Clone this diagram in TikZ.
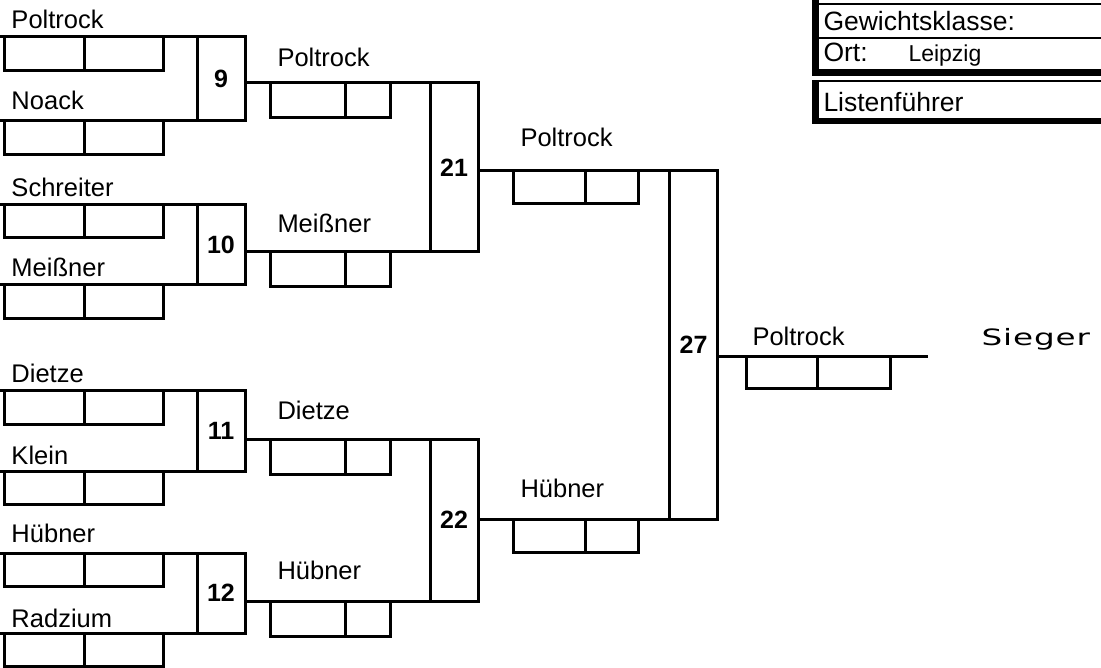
\documentclass[tikz,border=0pt]{standalone}
\usepackage{fontspec}
\setmainfont{Liberation Sans}
\newfontfamily\siegerfont[FakeStretch=1.45,LetterSpace=4]{DejaVu Sans}
\usetikzlibrary{positioning}

\tikzset{
  bout/.style={draw, line width=3pt, minimum width=48pt, inner sep=0pt, outer sep=0pt,
    font=\bfseries\fontsize{25}{28}\selectfont},
  half/.style={draw, line width=3pt, inner sep=0pt, outer sep=0pt, anchor=north west},
  player/.style={anchor=base west, inner sep=0pt,
    font=\fontsize{25.5}{28}\selectfont},
  head/.style={anchor=base west, inner sep=0pt, font=\fontsize{26.5}{30}\selectfont},
}

\begin{document}
\begin{tikzpicture}[x=1pt, y=-1pt, line width=3pt]
  \useasboundingbox (0,0) rectangle (1101,668);

  % bouts
  \node[bout, minimum height=84pt] (m9) at (221,79) {9};
  \node[bout, minimum height=80.5pt] (m10) at (221,244.75) {10};
  \node[bout, minimum height=80pt] (m11) at (221,431) {11};
  \node[bout, minimum height=80pt] (m12) at (221,593) {12};
  \node[bout, minimum height=169pt] (m21) at (454,167.5) {21};
  \node[bout, minimum height=162pt] (m22) at (454,520) {22};
  \node[bout, minimum height=348pt] (m27) at (693.5,345) {27};

  % first round
  \coordinate (p9a) at (0,37);
  \coordinate (p9b) at (0,121);
  \coordinate (p10a) at (0,204.5);
  \coordinate (p10b) at (0,285);
  \coordinate (p11a) at (0,391);
  \coordinate (p11b) at (0,471);
  \coordinate (p12a) at (0,553);
  \coordinate (p12b) at (0,633);
  \draw (p9a) -- (m9.north west);
  \draw (p9b) -- (m9.south west);
  \draw (p10a) -- (m10.north west);
  \draw (p10b) -- (m10.south west);
  \draw (p11a) -- (m11.north west);
  \draw (p11b) -- (m11.south west);
  \draw (p12a) -- (m12.north west);
  \draw (p12b) -- (m12.south west);

  \node[player] (n9a) at (10,29) {Poltrock};
  \node[player] (n9b) at (10,110) {Noack};
  \node[player] (n10a) at (10,197) {Schreiter};
  \node[player] (n10b) at (10,277) {Meißner};
  \node[player] (n11a) at (10,383) {Dietze};
  \node[player] (n11b) at (10,464) {Klein};
  \node[player] (n12a) at (10,542) {Hübner};
  \node[player] (n12b) at (10,627) {Radzium};

  \foreach \p in {9a,9b,10a,10b,11a,11b,12a,12b} {
    \node[half, minimum width=80pt, minimum height=33.5pt] (s\p) at ([xshift=4pt]p\p) {};
    \node[half, minimum width=79pt, minimum height=33.5pt] (t\p) at (s\p.north east) {};
  }

  % second round
  \draw (m9.east |- m21.north west) -- (m21.north west);
  \draw (m10.east |- m21.south west) -- (m21.south west);
  \draw (m11.east |- m22.north west) -- (m22.north west);
  \draw (m12.east |- m22.south west) -- (m22.south west);

  \node[player] (w9) at (276,67) {Poltrock};
  \node[player] (w10) at (276,233) {Meißner};
  \node[player] (w11) at (276,419) {Dietze};
  \node[player] (w12) at (276,579) {Hübner};

  \node[half, minimum width=75pt, minimum height=35pt] (s9) at (270,83) {};
  \node[half, minimum width=45pt, minimum height=35pt] (t9) at (s9.north east) {};
  \node[half, minimum width=75pt, minimum height=35pt] (s10) at (270,252) {};
  \node[half, minimum width=45pt, minimum height=35pt] (t10) at (s10.north east) {};
  \node[half, minimum width=75pt, minimum height=35pt] (s11) at (270,439) {};
  \node[half, minimum width=45pt, minimum height=35pt] (t11) at (s11.north east) {};
  \node[half, minimum width=75pt, minimum height=35pt] (s12) at (270,601) {};
  \node[half, minimum width=45pt, minimum height=35pt] (t12) at (s12.north east) {};

  % semi final
  \draw (m21.east |- m27.north west) -- (m27.north west);
  \draw (m22.east |- m27.south west) -- (m27.south west);

  \node[player] (w21) at (519,147) {Poltrock};
  \node[player] (w22) at (519,497) {Hübner};

  \node[half, minimum width=72pt, minimum height=33pt] (s21) at (513,171) {};
  \node[half, minimum width=53pt, minimum height=33pt] (t21) at (s21.north east) {};
  \node[half, minimum width=72pt, minimum height=33pt] (s22) at (513,519) {};
  \node[half, minimum width=53pt, minimum height=33pt] (t22) at (s22.north east) {};

  % final
  \coordinate (win) at (928,357);
  \draw (m27.east |- win) -- (win);
  \node[player] (w27) at (751,346) {Poltrock};
  \node[anchor=base west, inner sep=0pt, font=\siegerfont\fontsize{22.5}{26}\selectfont]
    (sieger) at (980,346) {Sieger};
  \node[half, minimum width=71pt, minimum height=32pt] (s27) at (746,357) {};
  \node[half, minimum width=73pt, minimum height=32pt] (t27) at (s27.north east) {};

  % header form
  \fill (812,0) rectangle (819,76.5);
  \fill (812,80) rectangle (819,124);
  \draw[line width=2pt] (819,4) -- (1101,4);
  \draw[line width=2pt] (819,38) -- (1101,38);
  \fill (819,69) rectangle (1101,76);
  \draw[line width=2pt] (819,81) -- (1101,81);
  \fill (819,118) rectangle (1101,124);
  \node[head] (gew) at (822,31) {Gewichtsklasse:};
  \node[head] (ort) at (822,62) {Ort:};
  \node[anchor=base west, inner sep=0pt, font=\fontsize{23}{26}\selectfont]
    (leipzig) at (907,62) {Leipzig};
  \node[head] (liste) at (822,112) {Listenführer};
\end{tikzpicture}
\end{document}
